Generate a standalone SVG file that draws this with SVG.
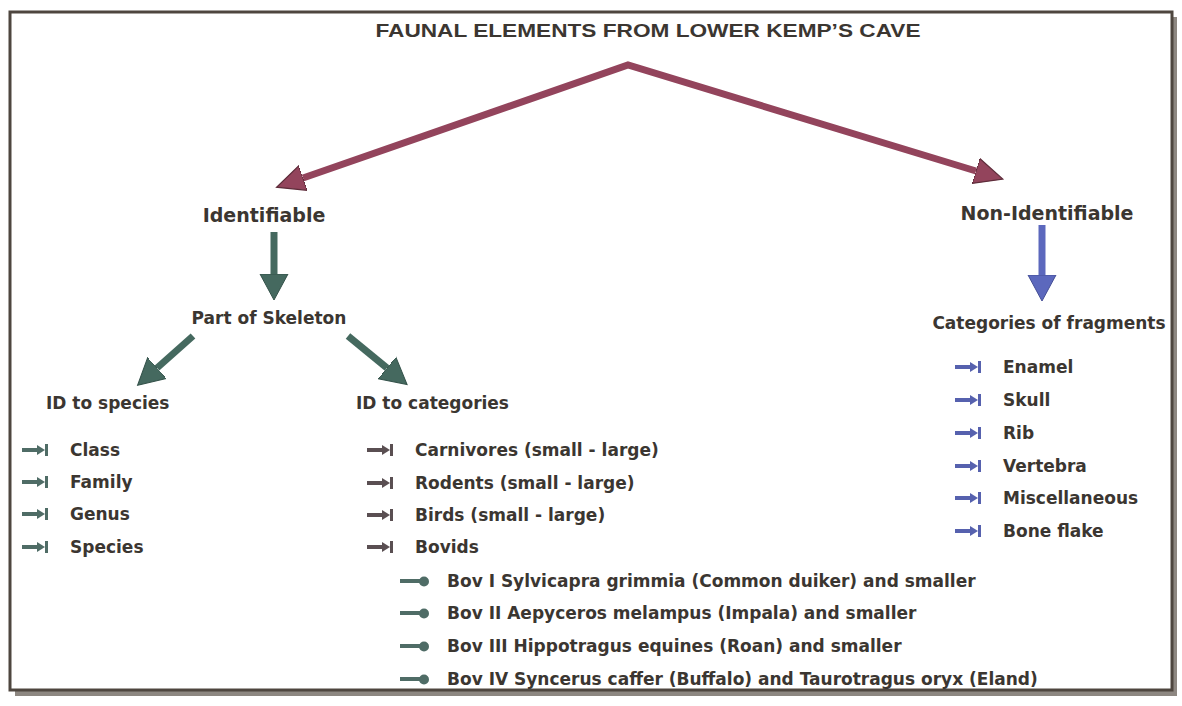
<svg xmlns="http://www.w3.org/2000/svg" width="1182" height="706" viewBox="0 0 1182 706">
<style>
.t{font-family:"DejaVu Sans","Liberation Sans",Arial,sans-serif;font-weight:bold;fill:#3b3631;font-size:17px}
.h{font-size:19px}
.title{font-family:"Liberation Sans",Arial,sans-serif;font-weight:bold;fill:#3b3631;font-size:19px}
</style>
<defs>
<marker id="mr" markerUnits="userSpaceOnUse" markerWidth="30" markerHeight="30" viewBox="0 0 30 30" refX="0" refY="15" orient="auto-start-reverse">
<path d="M0,2 L28,15 L0,28 z" fill="#93445c" stroke="#5e2c3a" stroke-width="1.2"/>
</marker>
<marker id="mg" markerUnits="userSpaceOnUse" markerWidth="30" markerHeight="30" viewBox="0 0 30 30" refX="0" refY="15" orient="auto">
<path d="M0,1 L26,15 L0,29 z" fill="#45695f" stroke="#34524a" stroke-width="1"/>
</marker>
<marker id="mb" markerUnits="userSpaceOnUse" markerWidth="30" markerHeight="30" viewBox="0 0 30 30" refX="0" refY="15" orient="auto">
<path d="M0,1 L26,15 L0,29 z" fill="#5c68bd" stroke="#454f96" stroke-width="1"/>
</marker>
<g id="bg">
<rect x="0" y="-2" width="18" height="4" fill="#4f6c66"/>
<path d="M15,-5 L23,0 L15,5 z" fill="#4f6c66"/>
<rect x="23" y="-6" width="3" height="12" fill="#4f6c66"/>
</g>
<g id="bm">
<rect x="0" y="-2" width="18" height="4" fill="#5a4f52"/>
<path d="M15,-5 L23,0 L15,5 z" fill="#5a4f52"/>
<rect x="23" y="-6" width="3" height="12" fill="#5a4f52"/>
</g>
<g id="bb">
<rect x="0" y="-2" width="18" height="4" fill="#5661ae"/>
<path d="M15,-5 L23,0 L15,5 z" fill="#5661ae"/>
<rect x="23" y="-6" width="3" height="12" fill="#5661ae"/>
</g>
<g id="bc">
<rect x="0" y="-2" width="22" height="4" fill="#4f6c66"/>
<circle cx="24" cy="0.5" r="5" fill="#4f6c66"/>
</g>
</defs>
<rect width="1182" height="706" fill="#ffffff"/>
<g id="frame">
<rect x="15" y="17" width="1162" height="679" fill="#8d8781"/>
<rect x="10" y="12" width="1162" height="678" fill="#ffffff" stroke="#4e463f" stroke-width="3"/>
</g>
<g id="title"><text class="title" x="648" y="37" text-anchor="middle" textLength="545" lengthAdjust="spacingAndGlyphs">FAUNAL ELEMENTS FROM LOWER KEMP’S CAVE</text></g>
<g id="connectors" fill="none">
<path d="M303,178 L628,65 L976,171" stroke="#93445c" stroke-width="7" stroke-linejoin="miter" marker-start="url(#mr)" marker-end="url(#mr)"/>
<line x1="274" y1="232" x2="274" y2="274" stroke="#45695f" stroke-width="7" marker-end="url(#mg)"/>
<line x1="193" y1="336" x2="157" y2="368" stroke="#45695f" stroke-width="7" marker-end="url(#mg)"/>
<line x1="348" y1="336" x2="387" y2="368" stroke="#45695f" stroke-width="7" marker-end="url(#mg)"/>
<line x1="1042" y1="225" x2="1042" y2="275" stroke="#5c68bd" stroke-width="7" marker-end="url(#mb)"/>
</g>
<g id="identifiable"><text class="t h" x="264" y="222" text-anchor="middle">Identifiable</text></g>
<g id="non-identifiable"><text class="t h" x="1047" y="220" text-anchor="middle">Non-Identifiable</text></g>
<g id="part-of-skeleton"><text class="t" x="269" y="324" text-anchor="middle">Part of Skeleton</text></g>
<g id="id-to-species"><text class="t" x="46" y="409">ID to species</text></g>
<g id="id-to-categories"><text class="t" x="356" y="409">ID to categories</text></g>
<g id="categories-of-fragments"><text class="t" x="1049" y="329" text-anchor="middle">Categories of fragments</text></g>
<g id="species-list">
<use href="#bg" x="22" y="450"/><text class="t" x="70" y="456">Class</text>
<use href="#bg" x="22" y="482"/><text class="t" x="70" y="488">Family</text>
<use href="#bg" x="22" y="514"/><text class="t" x="70" y="520">Genus</text>
<use href="#bg" x="22" y="547"/><text class="t" x="70" y="553">Species</text>
</g>
<g id="categories-list">
<use href="#bm" x="367" y="450"/><text class="t" x="415" y="456">Carnivores (small - large)</text>
<use href="#bm" x="367" y="483"/><text class="t" x="415" y="489">Rodents (small - large)</text>
<use href="#bm" x="367" y="515"/><text class="t" x="415" y="521">Birds (small - large)</text>
<use href="#bm" x="367" y="547"/><text class="t" x="415" y="553">Bovids</text>
</g>
<g id="bovid-list">
<use href="#bc" x="400" y="581"/><text class="t" x="447" y="587">Bov I Sylvicapra grimmia (Common duiker) and smaller</text>
<use href="#bc" x="400" y="613"/><text class="t" x="447" y="619">Bov II Aepyceros melampus (Impala) and smaller</text>
<use href="#bc" x="400" y="646"/><text class="t" x="447" y="652">Bov III Hippotragus equines (Roan) and smaller</text>
<use href="#bc" x="400" y="679"/><text class="t" x="447" y="685">Bov IV Syncerus caffer (Buffalo) and Taurotragus oryx (Eland)</text>
</g>
<g id="fragments-list">
<use href="#bb" x="955" y="367"/><text class="t" x="1003" y="373">Enamel</text>
<use href="#bb" x="955" y="400"/><text class="t" x="1003" y="406">Skull</text>
<use href="#bb" x="955" y="433"/><text class="t" x="1003" y="439">Rib</text>
<use href="#bb" x="955" y="466"/><text class="t" x="1003" y="472">Vertebra</text>
<use href="#bb" x="955" y="498"/><text class="t" x="1003" y="504">Miscellaneous</text>
<use href="#bb" x="955" y="531"/><text class="t" x="1003" y="537">Bone flake</text>
</g>
</svg>
